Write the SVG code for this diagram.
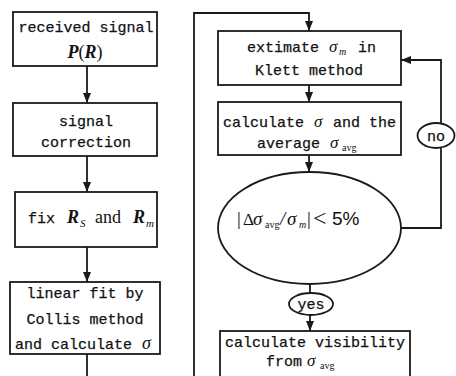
<svg xmlns="http://www.w3.org/2000/svg" width="456" height="376" viewBox="0 0 456 376">
<style>
.box{fill:#fff;stroke:#1a1a1a;stroke-width:1.8}
.ln{fill:none;stroke:#1a1a1a;stroke-width:1.8}
.t,.ts{font-family:"Liberation Mono","DejaVu Sans Mono",monospace;font-size:15px;fill:#111;stroke:#111;stroke-width:0.25}
.t{text-anchor:middle}
.ts{text-anchor:start}
.m{font-family:"Liberation Serif","Times New Roman",serif;fill:#111}
.i{font-style:italic}
.b{font-weight:bold}
</style>
<defs>
<marker id="arr" markerUnits="userSpaceOnUse" markerWidth="10" markerHeight="10" viewBox="0 0 10 10" refX="10" refY="5" orient="auto">
<path d="M0,1 L10,5 L0,9 Z" fill="#1a1a1a"/>
</marker>
</defs>
<rect width="456" height="376" fill="#fff"/>
<g id="connectors">
<line class="ln" x1="87" y1="66" x2="87" y2="103" marker-end="url(#arr)"/>
<line class="ln" x1="87" y1="156" x2="87" y2="192" marker-end="url(#arr)"/>
<line class="ln" x1="87" y1="247" x2="87" y2="282" marker-end="url(#arr)"/>
<path class="ln" d="M87,354 V382 H194 V13 H309 V31" marker-end="url(#arr)"/>
<line class="ln" x1="309" y1="85" x2="309" y2="102" marker-end="url(#arr)"/>
<line class="ln" x1="309" y1="155" x2="309" y2="172" marker-end="url(#arr)"/>
<line class="ln" x1="310" y1="284" x2="310" y2="293"/>
<line class="ln" x1="310" y1="315" x2="310" y2="331" marker-end="url(#arr)"/>
<path class="ln" d="M401,228 H441 V60 H401" marker-end="url(#arr)"/>
</g>
<g id="n1">
<rect class="box" x="13" y="12" width="144" height="54"/>
<text class="t" x="86" y="32">received signal</text>
<text class="m" x="85" y="58" font-size="18" text-anchor="middle"><tspan class="i b">P</tspan>(<tspan class="i b">R</tspan>)</text>
</g>
<g id="n2">
<rect class="box" x="13" y="103" width="144" height="53"/>
<text class="t" x="86" y="126">signal</text>
<text class="t" x="86" y="147">correction</text>
</g>
<g id="n3">
<rect class="box" x="15" y="192" width="142" height="55"/>
<text class="ts" x="28" y="223">fix</text>
<text class="m i b" x="67" y="223" font-size="18">R</text>
<text class="m i" x="80" y="227" font-size="11">S</text>
<text class="m" x="95" y="223" font-size="18">and</text>
<text class="m i b" x="133" y="223" font-size="18">R</text>
<text class="m i" x="146" y="227" font-size="11">m</text>
</g>
<g id="n4">
<rect class="box" x="10" y="282" width="150" height="72"/>
<text class="t" x="85" y="298">linear fit by</text>
<text class="t" x="85" y="324">Collis method</text>
<text class="ts" x="15" y="349">and calculate</text>
<text class="m i" x="142" y="349" font-size="18">σ</text>
</g>
<g id="n5">
<rect class="box" x="218" y="31" width="183" height="54"/>
<text class="ts" x="247" y="52">extimate</text>
<text class="m i" x="329" y="52" font-size="17">σ</text>
<text class="m i" x="339" y="55" font-size="10">m</text>
<text class="ts" x="358" y="52">in</text>
<text class="t" x="309" y="75">Klett method</text>
</g>
<g id="n6">
<rect class="box" x="218" y="102" width="183" height="53"/>
<text class="ts" x="223" y="127">calculate</text>
<text class="m i" x="314" y="127" font-size="17">σ</text>
<text class="ts" x="333" y="127">and the</text>
<text class="ts" x="257" y="148">average</text>
<text class="m i" x="330" y="148" font-size="17">σ</text>
<text class="m" x="342" y="151" font-size="10">avg</text>
</g>
<g id="n7">
<ellipse class="box" cx="309.5" cy="228" rx="91.5" ry="56"/>
<text class="m" x="237" y="225" font-size="19">|</text>
<text class="m" x="243" y="225" font-size="17">Δ</text>
<text class="m i" x="253" y="225" font-size="19">σ</text>
<text class="m" x="265" y="228" font-size="10">avg</text>
<text class="m i" x="280" y="225" font-size="19">/</text>
<text class="m i" x="287" y="225" font-size="19">σ</text>
<text class="m i" x="299" y="228" font-size="10">m</text>
<text class="m" x="307" y="225" font-size="19">|</text>
<text class="m" x="313" y="226" font-size="24">&lt;</text>
<text x="332" y="225" font-family="Liberation Sans, Arial, sans-serif" font-size="19" fill="#111">5%</text>
</g>
<g id="n8">
<ellipse class="box" cx="436" cy="135.5" rx="18.5" ry="12.5"/>
<text class="t" x="436" y="141">no</text>
</g>
<g id="n9">
<ellipse class="box" cx="311" cy="304" rx="22" ry="11"/>
<text class="t" x="311" y="309">yes</text>
</g>
<g id="n10">
<rect class="box" x="220" y="331" width="190" height="50"/>
<text class="t" x="315" y="347">calculate visibility</text>
<text class="ts" x="266" y="366">from</text>
<text class="m i" x="307" y="366" font-size="17">σ</text>
<text class="m" x="320" y="369" font-size="10">avg</text>
</g>
</svg>
